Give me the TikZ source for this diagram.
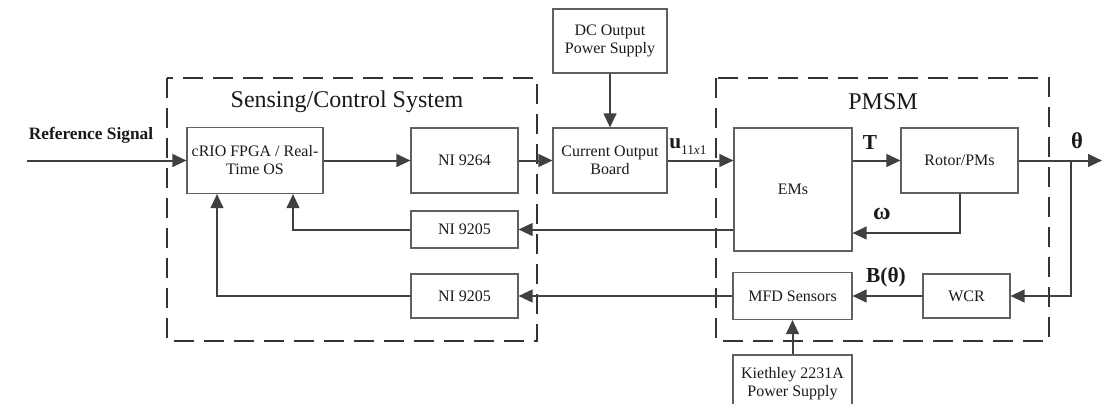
\documentclass[tikz,border=0pt]{standalone}
\usepackage{fontspec}
\setmainfont{Liberation Serif}
\usetikzlibrary{arrows.meta}
\definecolor{ln}{HTML}{404040}
\definecolor{bx}{HTML}{606060}
\definecolor{tx}{HTML}{1A1A1A}
\tikzset{
  blk/.style={draw=bx, line width=0.8pt, fill=white, text=tx, align=center, inner sep=1pt,
    font=\fontsize{12}{13.5}\selectfont},
  sz/.style 2 args={minimum width=#1*0.75pt, minimum height=#2*0.75pt},
  arr/.style={draw=ln, line width=1.5pt, -{Triangle[length=10.5pt,width=9.5pt]}},
  grp/.style={draw=black!80, line width=1pt, dash pattern=on 15pt off 7.5pt},
  ttl/.style={text=tx, font=\fontsize{18}{20}\selectfont},
  lbl/.style={text=tx, font=\fontsize{16}{18}\selectfont\bfseries, inner sep=0pt}
}
\begin{document}
\begin{tikzpicture}[x=0.75pt, y=-0.75pt]
\clip (0,0) rectangle (1102,403);
\fill[white] (0,0) rectangle (1102,403);
% group frames
\draw[grp] (167,78) rectangle (537,341);
\draw[grp] (716,78) rectangle (1049,341);
\node[ttl] (tsens) at (347,102) {Sensing/Control System};
\node[ttl] (tpmsm) at (883,102) {PMSM};
% blocks
\node[blk, sz={136}{66}] (crio) at (255,160.5) {cRIO FPGA / Real-\\Time OS};
\node[blk, sz={107}{65}] (ni9264) at (464.5,160.5) {NI 9264};
\node[blk, sz={114}{65}] (cob) at (610,160.5) {Current Output\\Board};
\node[blk, sz={114}{64}] (dc) at (610,41) {DC Output\\Power Supply};
\node[blk, sz={107}{37}] (nia) at (464.5,229.5) {NI 9205};
\node[blk, sz={107}{44}] (nib) at (464.5,296) {NI 9205};
\node[blk, sz={118}{123}] (ems) at (793,189.5) {EMs};
\node[blk, sz={117}{65}] (rotor) at (959.5,160.5) {Rotor/PMs};
\node[blk, sz={87}{44}] (wcr) at (966.5,296) {WCR};
\node[blk, sz={119}{47}] (mfd) at (792.5,296) {MFD Sensors};
\node[blk, sz={119}{58}] (kie) at (792.5,384) {Kiethley 2231A\\Power Supply};
% coordinates
\coordinate (refin) at (27,160.5);
\coordinate (out) at (1102,160.5);
\coordinate (br) at (1071,160.5);
\coordinate (wy) at (0,233);
% connectors
\draw[arr] (refin) -- (crio.west);
\node[lbl, font=\fontsize{13}{15}\selectfont\bfseries] (reflbl) at (91,135) {Reference Signal};
\draw[arr] (crio.east) -- (ni9264.west);
\draw[arr] (ni9264.east) -- (cob.west);
\draw[arr] (dc.south) -- (cob.north);
\draw[arr] (cob.east) -- (cob.east -| ems.west);
\node[lbl, anchor=base west] (ulbl) at (669,148) {u\raisebox{-5pt}{\fontsize{10}{10}\selectfont\mdseries 11\textit{x}1}};
\draw[arr] (rotor.west -| ems.east) -- (rotor.west);
\node[lbl] (tlbl) at (870,143) {T};
\draw[arr] (rotor.east) -- (out);
\node[lbl, font=\fontsize{17}{19}\selectfont\bfseries] (thlbl) at (1077,141) {θ};
\draw[arr] (br) |- (wcr.east);
\draw[arr] (rotor.south) |- (ems.east |- wy);
\node[lbl, font=\fontsize{18}{20}\selectfont\bfseries] (wlbl) at (882,214) {ω};
\draw[arr] (wcr.west) -- (mfd.east);
\node[lbl] (blbl) at (886,277) {B(θ)};
\draw[arr] (kie.north) -- (mfd.south);
\draw[arr] (ems.west |- nia) -- (nia.east);
\draw[arr] (mfd.west) -- (nib.east);
\draw[arr] (nia.west) -| ([xshift=28.5pt]crio.south);
\draw[arr] (nib.west) -| ([xshift=-28.5pt]crio.south);
\end{tikzpicture}
\end{document}
